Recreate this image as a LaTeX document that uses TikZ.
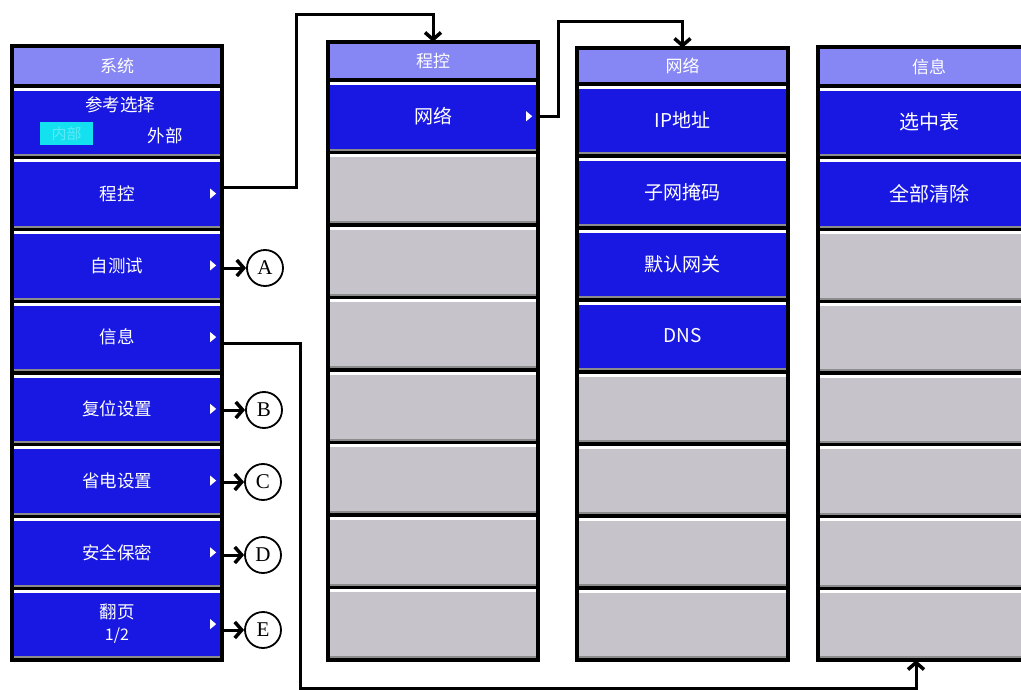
\documentclass[tikz,border=0pt]{standalone}
\usepackage{fontspec}
\setmainfont{Liberation Serif}
\newfontfamily\cjk{Noto Sans CJK SC}
\usetikzlibrary{arrows.meta}
\definecolor{titlec}{RGB}{134,134,244}
\definecolor{btnblue}{RGB}{24,24,226}
\definecolor{btngray}{RGB}{198,196,202}
\definecolor{cyanbox}{RGB}{20,225,240}
\tikzset{
  frame/.style={rectangle, fill=black, inner sep=0pt},
  ttl/.style={rectangle, fill=titlec, inner sep=0pt, text=white, font=\cjk\fontsize{17}{18}\selectfont},
  rowbase/.style={rectangle, inner sep=0pt, text=white, align=center,
    path picture={
      \fill[white] (path picture bounding box.north west) rectangle ([yshift=-3pt]path picture bounding box.north east);
      \fill[black!45] (path picture bounding box.south west) rectangle ([yshift=2pt]path picture bounding box.south east);
    }},
  bb/.style={rowbase, fill=btnblue},
  gb/.style={rowbase, fill=btngray},
  fa/.style={font=\cjk\fontsize{17.5}{22}\selectfont},
  fb/.style={font=\cjk\fontsize{19}{22}\selectfont},
  fc/.style={font=\cjk\fontsize{20}{22}\selectfont},
  conn/.style={line width=3pt, draw=black},
  tip/.style={-{Straight Barb[length=7pt,width=16pt,line width=3.5pt]}},
  circ/.style={circle, draw=black, line width=1.8pt, minimum size=36pt, inner sep=0pt, font=\fontsize{21}{21}\selectfont},
}
\newcommand\tri[1]{\fill[white] ([xshift=-10pt,yshift=5pt]#1.east) -- ([xshift=-10pt,yshift=-5pt]#1.east) -- ([xshift=-4pt]#1.east) -- cycle;}
\begin{document}
\begin{tikzpicture}[x=1pt,y=-1pt]
\useasboundingbox (0,0) rectangle (1021,690);
\clip (0,0) rectangle (1021,690);

% ---------------- Panel 1 ----------------
\node[frame, minimum width=210pt, minimum height=614pt] (P1) at (117,353) {};
\node[ttl, minimum width=206pt, minimum height=36pt] (P1t) at (117,66) {系统};
\node[bb, minimum width=206pt, minimum height=68.5pt] (p1r1) at (117,121.9) {};
\node[bb, fa, minimum width=206pt, minimum height=68.5pt] (p1r2) at (117,193.6) {程控};
\node[bb, fa, minimum width=206pt, minimum height=68.5pt] (p1r3) at (117,265.4) {自测试};
\node[bb, fa, minimum width=206pt, minimum height=68.5pt] (p1r4) at (117,337.1) {信息};
\node[bb, fa, minimum width=206pt, minimum height=68.5pt] (p1r5) at (117,408.9) {复位设置};
\node[bb, fa, minimum width=206pt, minimum height=68.5pt] (p1r6) at (117,480.6) {省电设置};
\node[bb, fa, minimum width=206pt, minimum height=68.5pt] (p1r7) at (117,552.4) {安全保密};
\node[bb, fa, minimum width=206pt, minimum height=68.5pt] (p1r8) at (117,624.1) {翻页\\[0pt]{\fontsize{16}{18}\selectfont 1/2}};
\node[fa, text=white] (refsel) at (120,105) {参考选择};
\node[rectangle, fill=cyanbox, inner sep=0pt, minimum width=53pt, minimum height=23pt,
      text=cyanbox!70!white, font=\cjk\fontsize{15}{16}\selectfont] (inner) at (66.5,134) {内部};
\node[fa, text=white] (outer) at (165,136) {外部};
\foreach \r in {p1r2,p1r3,p1r4,p1r5,p1r6,p1r7,p1r8}{\tri{\r}}
\draw[line width=4pt] (P1.north west) rectangle (P1.south east);

% ---------------- Panel 2 ----------------
\node[frame, minimum width=210pt, minimum height=618pt] (P2) at (433,351) {};
\node[ttl, minimum width=206pt, minimum height=34pt] (P2t) at (433,61) {程控};
\node[bb, fb, minimum width=206pt, minimum height=69pt] (p2r1) at (433,116.25) {网络};
\node[gb, minimum width=206pt, minimum height=69pt] (p2r2) at (433,188.75) {};
\node[gb, minimum width=206pt, minimum height=69pt] (p2r3) at (433,261.25) {};
\node[gb, minimum width=206pt, minimum height=69pt] (p2r4) at (433,333.75) {};
\node[gb, minimum width=206pt, minimum height=69pt] (p2r5) at (433,406.25) {};
\node[gb, minimum width=206pt, minimum height=69pt] (p2r6) at (433,478.75) {};
\node[gb, minimum width=206pt, minimum height=69pt] (p2r7) at (433,551.25) {};
\node[gb, minimum width=206pt, minimum height=69pt] (p2r8) at (433,623.75) {};
\tri{p2r1}
\draw[line width=4pt] (P2.north west) rectangle (P2.south east);

% ---------------- Panel 3 ----------------
\node[frame, minimum width=211pt, minimum height=612pt] (P3) at (682.5,354) {};
\node[ttl, minimum width=207pt, minimum height=32pt] (P3t) at (682.5,66) {网络};
\node[bb, fb, minimum width=207pt, minimum height=68.5pt] (p3r1) at (682.5,120) {IP地址};
\node[bb, fb, minimum width=207pt, minimum height=68.5pt] (p3r2) at (682.5,192) {子网掩码};
\node[bb, fb, minimum width=207pt, minimum height=68.5pt] (p3r3) at (682.5,264) {默认网关};
\node[bb, fb, minimum width=207pt, minimum height=68.5pt] (p3r4) at (682.5,336) {DNS};
\node[gb, minimum width=207pt, minimum height=68.5pt] (p3r5) at (682.5,408) {};
\node[gb, minimum width=207pt, minimum height=68.5pt] (p3r6) at (682.5,480) {};
\node[gb, minimum width=207pt, minimum height=68.5pt] (p3r7) at (682.5,552) {};
\node[gb, minimum width=207pt, minimum height=68.5pt] (p3r8) at (682.5,624) {};
\draw[line width=4pt] (P3.north west) rectangle (P3.south east);

% ---------------- Panel 4 ----------------
\node[frame, minimum width=222pt, minimum height=613pt] (P4) at (929,353.5) {};
\node[ttl, minimum width=218pt, minimum height=35pt] (P4t) at (929,66.5) {信息};
\node[bb, fc, minimum width=218pt, minimum height=68.5pt] (p4r1) at (929,121.9) {选中表};
\node[bb, fc, minimum width=218pt, minimum height=68.5pt] (p4r2) at (929,193.6) {全部清除};
\node[gb, minimum width=218pt, minimum height=68.5pt] (p4r3) at (929,265.4) {};
\node[gb, minimum width=218pt, minimum height=68.5pt] (p4r4) at (929,337.1) {};
\node[gb, minimum width=218pt, minimum height=68.5pt] (p4r5) at (929,408.9) {};
\node[gb, minimum width=218pt, minimum height=68.5pt] (p4r6) at (929,480.6) {};
\node[gb, minimum width=218pt, minimum height=68.5pt] (p4r7) at (929,552.4) {};
\node[gb, minimum width=218pt, minimum height=68.5pt] (p4r8) at (929,624.1) {};
\draw[line width=4pt] (P4.north west) rectangle (P4.south east);

% ---------------- Circles ----------------
\node[circ] (A) at (265,268) {A};
\node[circ] (B) at (264,410) {B};
\node[circ] (C) at (263,482) {C};
\node[circ] (D) at (263,555) {D};
\node[circ] (E) at (263,630) {E};
\draw[conn,tip] (p1r3.east |- A) -- (A);
\draw[conn,tip] (p1r5.east |- B) -- (B);
\draw[conn,tip] (p1r6.east |- C) -- (C);
\draw[conn,tip] (p1r7.east |- D) -- (D);
\draw[conn,tip] (p1r8.east |- E) -- (E);

% ---------------- Connectors ----------------
\coordinate (k1) at (296,15);
\coordinate (k2) at (558,22);
\coordinate (k3a) at (300,688);
\coordinate (k3b) at (916,688);
\draw[conn,tip,line join=miter] ([yshift=6pt]p1r2.east) -| (k1) -| (P2.north);
\draw[conn,tip,line join=miter] (p2r1.east) -| (k2) -| (P3.north);
\draw[conn,tip,line join=miter] ([yshift=-6pt]p1r4.east) -| (k3a) -- (k3b) -- (k3b |- P4.south);
\end{tikzpicture}
\end{document}
